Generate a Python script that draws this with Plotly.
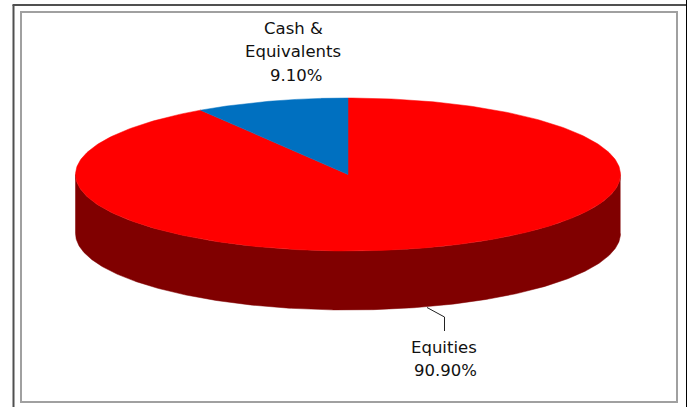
import numpy as np
import plotly.graph_objects as go

categories = ["Equities", "Cash &<br>Equivalents"]
values = [90.90, 9.10]
value_labels = ["90.90%", "9.10%"]
colors = ["#ff0000", "#0070c0"]
wall_color = "#800000"

W, H = 687, 407
CX, CY, RX, RY, DEPTH = 348.0, 174.5, 272.5, 76.5, 59.0
FONT = "DejaVu Sans"


def px(x):
    return x / W


def py(y):
    return 1 - y / H


def slice_xy(start_deg, end_deg):
    t = np.radians(np.linspace(start_deg, end_deg, 361))
    return np.r_[0, np.sin(t), 0], np.r_[0, np.cos(t), 0]


fig = go.Figure()

# side wall of the drum: visible lower half of the rim, extruded downward
d = DEPTH / RY
t = np.radians(np.linspace(90, 270, 361))
wx, wy = np.sin(t), np.cos(t)
fig.add_trace(go.Scatter(
    x=np.r_[wx, wx[::-1]], y=np.r_[wy, wy[::-1] - d],
    mode="lines", fill="toself", fillcolor=wall_color,
    line=dict(color=wall_color, width=0.5), hoverinfo="skip", showlegend=False))

# top face, clockwise from 12 o'clock
start = 0.0
for name, val, col in zip(categories, values, colors):
    sweep = val / sum(values) * 360
    x, y = slice_xy(start, start + sweep)
    fig.add_trace(go.Scatter(
        x=x, y=y, mode="lines", fill="toself", fillcolor=col,
        line=dict(color=col, width=0.5), name=name.replace("<br>", " "),
        hoverinfo="skip", showlegend=False))
    start += sweep


def label(text, x, y):
    return dict(text=text, x=px(x), y=py(y), xref="paper", yref="paper",
                showarrow=False, xanchor="center", yanchor="middle",
                font=dict(family=FONT, size=16.5, color="#111111"))


annotations = [
    label(categories[1].split("<br>")[0], 293, 29),
    label(categories[1].split("<br>")[1], 293, 52),
    label(value_labels[1], 296, 75),
    label(categories[0], 444, 347),
    label(value_labels[0], 445, 370),
]


def seg(x0, y0, x1, y1, color, width):
    return dict(type="line", xref="paper", yref="paper",
                x0=px(x0), y0=py(y0), x1=px(x1), y1=py(y1),
                line=dict(color=color, width=width))


shapes = [
    # outer frame
    seg(13.5, 5, 13.5, 407, "#505050", 2),
    seg(12.5, 5, 687, 5, "#505050", 2),
    seg(686.5, 0, 686.5, 407, "#000000", 1),
    # inner frame
    seg(21, 12, 21, 402, "#a0a0a0", 2),
    seg(20, 12, 677, 12, "#a0a0a0", 2),
    seg(677, 11, 677, 403, "#a0a0a0", 2),
    seg(20, 402, 678, 402, "#a0a0a0", 2),
    # leader line
    seg(427, 307.5, 444.5, 317, "#222222", 1),
    seg(444.5, 317, 444.5, 331, "#222222", 1),
]

fig.update_layout(
    width=W, height=H, margin=dict(l=0, r=0, t=0, b=0),
    paper_bgcolor="white", plot_bgcolor="white",
    xaxis=dict(range=[-CX / RX, (W - CX) / RX], visible=False, fixedrange=True),
    yaxis=dict(range=[-(H - CY) / RY, CY / RY], visible=False, fixedrange=True),
    annotations=annotations, shapes=shapes,
)

fig.write_html(
    "out.html",
    config=dict(displayModeBar=False),
    post_script="document.body.style.margin='0';document.body.style.overflow='hidden';",
)
